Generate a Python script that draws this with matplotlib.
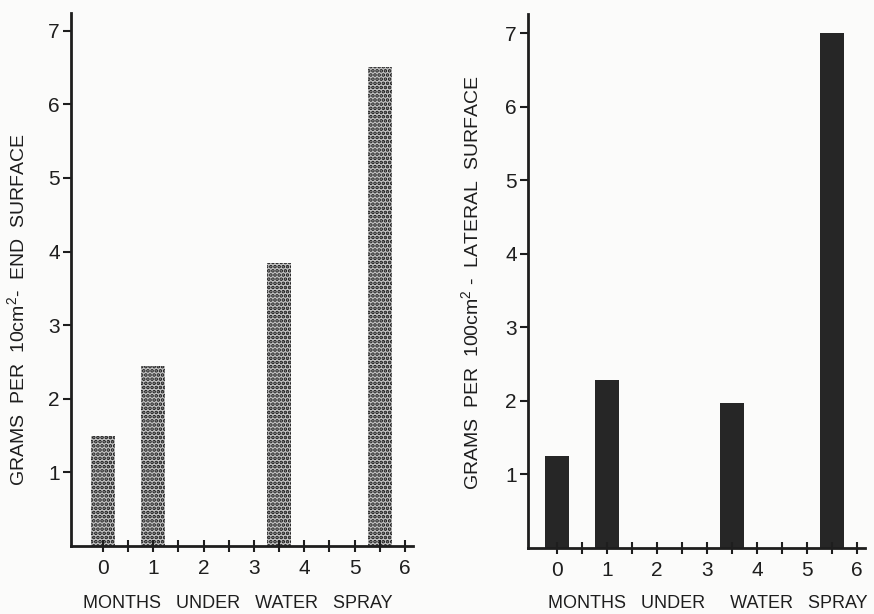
"""
Two-panel bar chart: water-spray months vs. grams per surface area.
Left = end surface (dotted bars), right = lateral surface (solid bars).
"""

import matplotlib
matplotlib.use("Agg")
import matplotlib.pyplot as plt
from matplotlib.ticker import FixedLocator

plt.rcParams["font.family"] = ["Liberation Sans", "DejaVu Sans"]
plt.rcParams["mathtext.fontset"] = "custom"
plt.rcParams["mathtext.rm"] = "Liberation Sans"
plt.rcParams["mathtext.default"] = "rm"
plt.rcParams["hatch.linewidth"] = 1.8

# ── data ────────────────────────────────────────────────
months = [0, 1, 3.5, 5.5]
end_surface = [1.5, 2.45, 3.85, 6.5]        # g per 10 cm²
lateral_surface = [1.25, 2.28, 1.97, 7.0]   # g per 100 cm²

y_ticks = [1, 2, 3, 4, 5, 6, 7]
x_ticks = [0, 1, 2, 3, 4, 5, 6]
x_half_ticks = [0.5, 1.5, 2.5, 3.5, 4.5, 5.5]

INK = "#1e1e1e"
PAPER = "#fbfbfa"
W, H = 874, 614


def style_axes(ax, xlim, ylim):
    ax.set_facecolor(PAPER)
    ax.set_xlim(*xlim)
    ax.set_ylim(*ylim)
    for side in ("top", "right"):
        ax.spines[side].set_visible(False)
    for side in ("left", "bottom"):
        ax.spines[side].set_linewidth(2.0)
        ax.spines[side].set_color(INK)
    ax.yaxis.set_major_locator(FixedLocator(y_ticks))
    ax.set_yticklabels([str(v) for v in y_ticks])
    ax.xaxis.set_major_locator(FixedLocator(x_ticks))
    ax.set_xticklabels([str(v) for v in x_ticks])
    ax.xaxis.set_minor_locator(FixedLocator(x_half_ticks))
    ax.tick_params(axis="y", direction="out", length=6, width=1.5,
                   color=INK, labelcolor=INK, labelsize=15, pad=2)
    ax.tick_params(axis="x", which="both", direction="inout", length=9,
                   width=1.5, color=INK, labelcolor=INK, labelsize=15, pad=5)


fig = plt.figure(figsize=(W / 100, H / 100), dpi=100)
fig.patch.set_facecolor(PAPER)

# ── left panel: end surface ──────────────────────────────
ax1 = fig.add_axes([71 / W, 1 - 546 / H, (413 - 71) / W, (546 - 13) / H])
ax1.bar(months, end_surface, width=0.48, facecolor="#c4c4c4",
        edgecolor="#141414", linewidth=0, hatch="....")
style_axes(ax1, (-0.636, 6.16), (0, 7.24))
ax1.set_ylabel(r"GRAMS  PER  10cm$^{2}$-  END  SURFACE", fontsize=14, color=INK)
ax1.yaxis.set_label_coords(-0.126, 0.443)
ax1.set_xlabel("MONTHS   UNDER   WATER   SPRAY", fontsize=13, color=INK)
ax1.xaxis.set_label_coords(0.488, -0.092)

# ── right panel: lateral surface ─────────────────────────
ax2 = fig.add_axes([528 / W, 1 - 548 / H, (865 - 528) / W, (548 - 14) / H])
ax2.bar(months, lateral_surface, width=0.48, color="#262626", linewidth=0)
style_axes(ax2, (-0.58, 6.16), (0, 7.26))
ax2.set_ylabel(r"GRAMS  PER  100cm$^{2}$ -  LATERAL  SURFACE", fontsize=14, color=INK)
ax2.yaxis.set_label_coords(-0.137, 0.496)
ax2.set_xlabel("MONTHS   UNDER     WATER   SPRAY", fontsize=13, color=INK)
ax2.xaxis.set_label_coords(0.534, -0.088)

fig.savefig("out.png", dpi=100, facecolor=fig.get_facecolor())
plt.close(fig)
